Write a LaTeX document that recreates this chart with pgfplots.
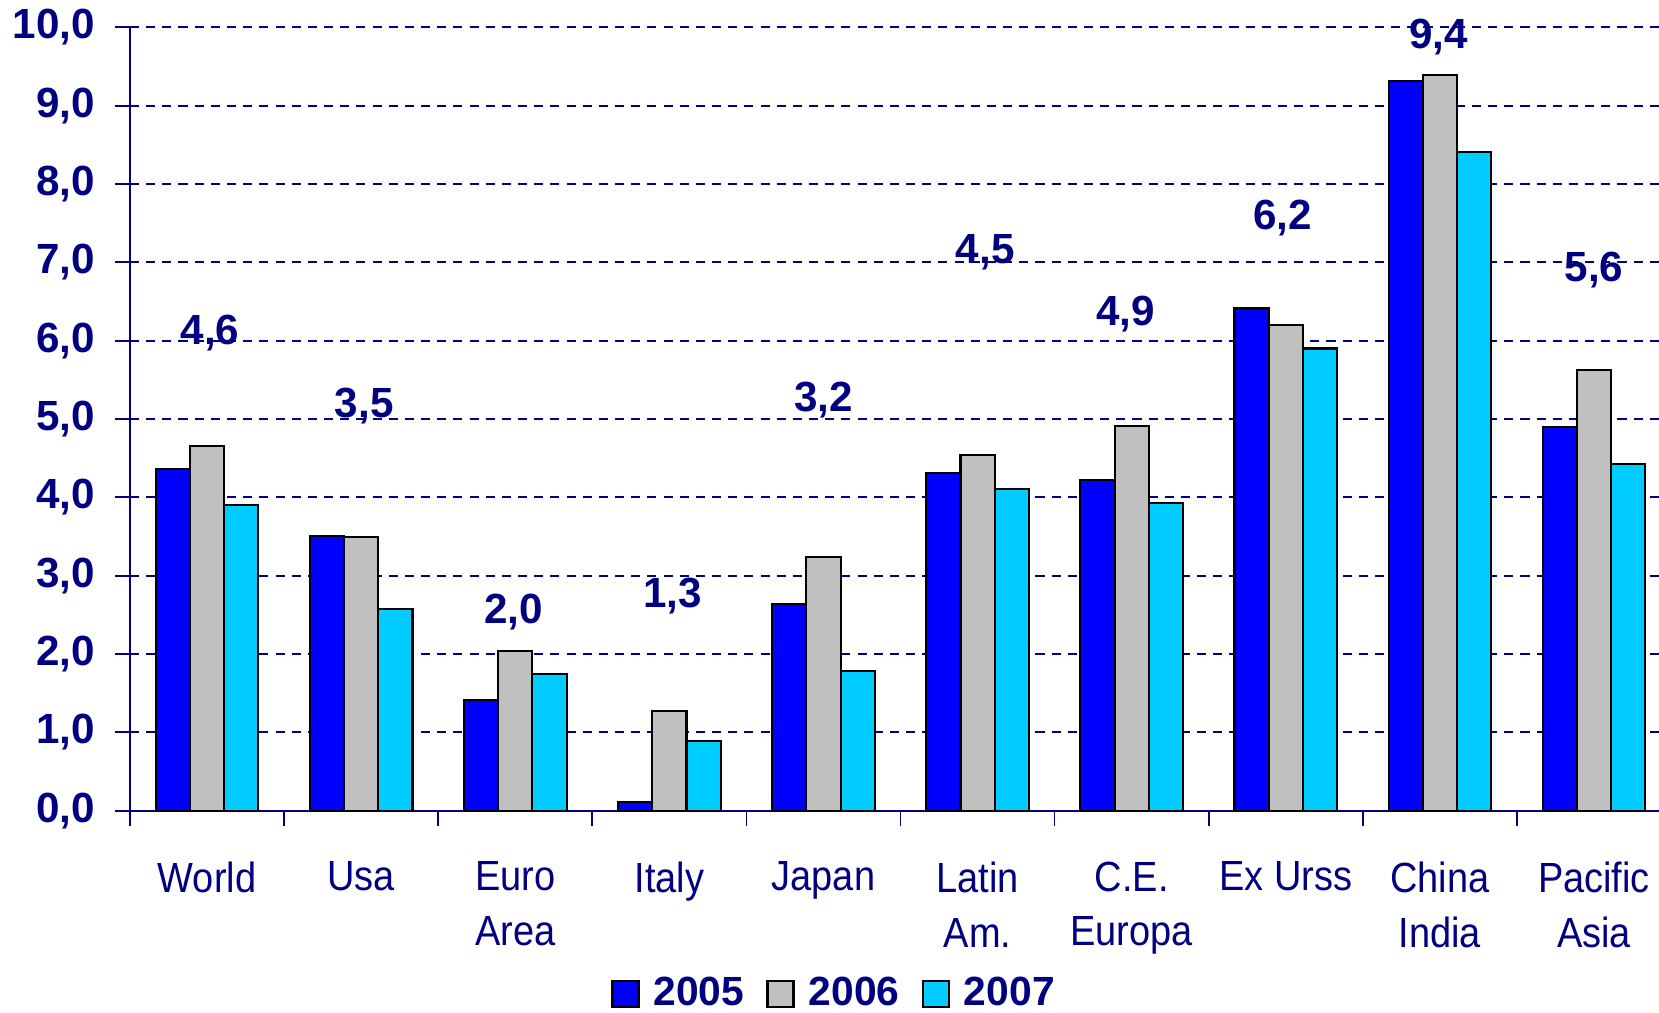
\documentclass[border=0pt]{standalone}
\usepackage{pgfplots}
\pgfplotsset{compat=1.18}
\usepackage{fontspec}
\setmainfont{Liberation Sans}
\newfontfamily\narrowfont[FakeStretch=0.9]{Liberation Sans}
\definecolor{navy}{RGB}{0,0,128}
\definecolor{bar05}{RGB}{0,0,255}
\definecolor{bar06}{RGB}{192,192,192}
\definecolor{bar07}{RGB}{0,204,255}
\begin{document}
\begin{tikzpicture}
\begin{axis}[
  name=ax,
  scale only axis,
  width=15.29cm, height=7.834cm,
  xmin=-0.5, xmax=9.422,
  ymin=0, ymax=10,
  ybar=0pt, bar width=0.222,
  axis lines*=left,
  axis line style={navy, line width=0.6pt},
  tick align=outside,
  major tick length=0.15cm,
  tick style={navy, line width=0.5pt},
  ytick={0,1,...,10},
  ymajorgrids,
  grid style={navy, dash pattern=on 2.6pt off 2pt, line width=0.5pt},
  /pgf/number format/.cd, fixed, fixed zerofill, precision=1, use comma, assume math mode=true,
  /pgfplots/.cd,
  yticklabel style={font=\bfseries\fontsize{12}{14}\selectfont, text=navy, xshift=-0.075cm},
  xtick={-0.5,0.5,...,8.5},
  xticklabels={,,,,,,,,,},
  extra x ticks={0,1,...,9},
  extra x tick labels={World, Usa, Euro\\Area, Italy, Japan, Latin\\Am., C.E.\\Europa, Ex Urss, China\\India, Pacific\\Asia},
  extra x tick style={major tick length=0pt, tick label style={font=\narrowfont\fontsize{12}{15.6}\selectfont, text=navy, align=center, anchor=north, yshift=-0.385cm}},
  clip=false,
  legend image code/.code={\draw[#1, line width=0.7pt] (0cm,-0.13cm) rectangle (0.26cm,0.13cm);},
  legend columns=3,
  legend style={draw=none, fill=none, at={(0.462,-0.234)}, anchor=center,
    font=\bfseries\fontsize{11.6}{14}\selectfont, text=navy,
    /tikz/every even column/.append style={column sep=0.15cm},
    /tikz/every odd column/.append style={column sep=0.07cm}},
  every axis plot/.append style={draw=black, line width=0.6pt},
]
\addplot[fill=bar05] coordinates {(0,4.36) (1,3.51) (2,1.41) (3,0.11) (4,2.64) (5,4.31) (6,4.22) (7,6.41) (8,9.32) (9,4.90)};
\addplot[fill=bar06] coordinates {(0,4.65) (1,3.49) (2,2.04) (3,1.27) (4,3.24) (5,4.54) (6,4.91) (7,6.20) (8,9.39) (9,5.62)};
\addplot[fill=bar07] coordinates {(0,3.90) (1,2.58) (2,1.74) (3,0.89) (4,1.78) (5,4.11) (6,3.93) (7,5.90) (8,8.41) (9,4.42)};
\legend{2005, 2006, 2007}
\begin{scope}[every node/.style={font=\bfseries\fontsize{12}{14}\selectfont, text=navy}]
\node at (axis cs:0.02,6.10) {4,6};
\node at (axis cs:1.02,5.16) {3,5};
\node at (axis cs:1.99,2.53) {2,0};
\node at (axis cs:3.02,2.74) {1,3};
\node at (axis cs:4.0,5.24) {3,2};
\node at (axis cs:5.05,7.13) {4,5};
\node at (axis cs:5.96,6.34) {4,9};
\node at (axis cs:6.98,7.56) {6,2};
\node at (axis cs:7.99,9.88) {9,4};
\node at (axis cs:9.0,6.90) {5,6};
\end{scope}
\end{axis}
\pgfresetboundingbox
\path (ax.south west) ++(-1.30cm,-2.023cm) coordinate (bl);
\path (ax.north east) ++(0,0.273cm) coordinate (tr);
\path[use as bounding box] (bl) rectangle (tr);
\end{tikzpicture}
\end{document}
